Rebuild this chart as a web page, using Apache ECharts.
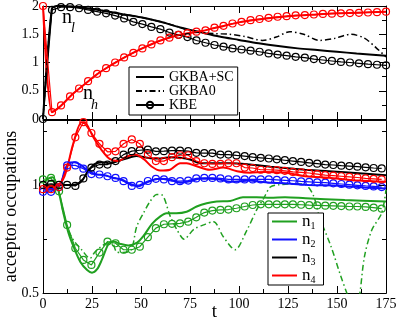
<!DOCTYPE html>
<html>
<head>
<meta charset="utf-8">
<title>acceptor occupations</title>
<script src="https://cdn.jsdelivr.net/npm/echarts@6/dist/echarts.min.js"></script>
<style>
  html, body { margin: 0; padding: 0; background: #fff; }
  #main { width: 399px; height: 321px; }
</style>
</head>
<body>
<div id="main"></div>
<script>
// ---- data ----
// top panel: n_l (black) and n_h (red)
var tTop = [0, 4.6, 9.2, 13.8, 18.4, 23, 27.6, 32.2, 36.8, 41.4, 46.1, 50.7, 55.3, 59.9, 64.5, 69.1, 73.7, 78.3, 82.9, 87.5,
            92.1, 96.7, 101.3, 105.9, 110.5, 115.1, 119.7, 124.3, 128.9, 133.6, 138.2, 142.8, 147.4, 152, 156.6, 161.2, 165.8, 170.4, 175];
var nlKbe = [0, 1.93, 1.98, 1.98, 1.96, 1.93, 1.90, 1.87, 1.83, 1.78, 1.72, 1.68, 1.63, 1.59, 1.53, 1.49, 1.45, 1.39, 1.35, 1.31,
             1.28, 1.25, 1.23, 1.21, 1.19, 1.16, 1.14, 1.12, 1.10, 1.085, 1.06, 1.044, 1.027, 1.01, 1.0, 0.985, 0.97, 0.96, 0.95];
var nhKbe = [2.0, 0.12, 0.24, 0.40, 0.54, 0.67, 0.80, 0.90, 1.0, 1.09, 1.17, 1.25, 1.32, 1.39, 1.44, 1.49, 1.52, 1.545, 1.57, 1.616,
             1.65, 1.69, 1.72, 1.75, 1.77, 1.79, 1.81, 1.82, 1.835, 1.84, 1.85, 1.86, 1.865, 1.87, 1.875, 1.88, 1.885, 1.89, 1.90];
var tNlSc = [0, 4.5, 7, 10, 15, 20, 25, 30, 40, 50, 60, 70, 80, 90, 100, 110, 120, 130, 140, 150, 160, 175];
var nlSc  = [0, 1.95, 2.0, 2.0, 1.99, 1.97, 1.95, 1.92, 1.86, 1.80, 1.72, 1.62, 1.54, 1.46, 1.40, 1.34, 1.29, 1.25, 1.22, 1.19, 1.16, 1.12];
var tNhSc = [0, 4.5, 7, 10, 15, 20, 25, 30, 40, 50, 60, 70, 80, 90, 100, 110, 120, 130, 140, 150, 160, 175];
var nhSc  = [2.0, 0.12, 0.17, 0.26, 0.44, 0.58, 0.72, 0.85, 1.06, 1.24, 1.39, 1.49, 1.55, 1.63, 1.71, 1.76, 1.80, 1.83, 1.85, 1.87, 1.88, 1.90];
var tNl0 = [0, 4.5, 7, 10, 20, 30, 40, 50, 60, 70, 75, 80, 88, 95, 103, 112, 119, 126, 133, 141, 149, 157, 164, 170, 175];
var nl0  = [0, 1.95, 2.0, 2.0, 1.97, 1.92, 1.86, 1.80, 1.72, 1.62, 1.56, 1.53, 1.51, 1.50, 1.46, 1.39, 1.45, 1.545, 1.50, 1.39, 1.43, 1.50, 1.43, 1.26, 1.10];

// bottom panel: n1 green, n2 blue, n3 black, n4 red
var tBot = [0, 4.1, 8.2, 12.3, 16.5, 20.6, 24.7, 28.8, 32.9, 37.0, 41.1, 45.3, 49.4, 53.5, 57.6, 61.7, 65.8, 69.9, 74.1, 78.2, 82.3,
            86.4, 90.5, 94.6, 98.7, 102.9, 107.0, 111.1, 115.2, 119.3, 123.4, 127.5, 131.7, 135.8, 139.9, 144.0, 148.1, 152.2, 156.3, 160.4,
            164.6, 168.7, 172.8];
var n1Kbe = [1.025, 1.032, 0.97, 0.815, 0.707, 0.653, 0.63, 0.687, 0.738, 0.73, 0.70, 0.70, 0.714, 0.758, 0.80, 0.818, 0.82, 0.822,
             0.83, 0.85, 0.872, 0.881, 0.884, 0.886, 0.892, 0.90, 0.907, 0.91, 0.91, 0.91, 0.91, 0.91, 0.908, 0.906, 0.905, 0.904,
             0.903, 0.902, 0.90, 0.90, 0.898, 0.895, 0.89];
var n2Kbe = [0.968, 0.968, 0.99, 1.09, 1.09, 1.075, 1.05, 1.048, 1.04, 1.032, 1.017, 0.995, 1.0, 1.018, 1.028, 1.025, 1.017, 1.017,
             1.02, 1.03, 1.032, 1.032, 1.03, 1.025, 1.025, 1.025, 1.025, 1.025, 1.025, 1.023, 1.021, 1.019, 1.016, 1.014, 1.012,
             1.01, 1.007, 1.004, 1.001, 0.998, 0.995, 0.993, 0.99];
var n3Kbe = [1.0, 1.005, 1.0, 1.0, 0.995, 1.03, 1.08, 1.094, 1.094, 1.11, 1.14, 1.156, 1.16, 1.163, 1.155, 1.156, 1.158, 1.158,
             1.156, 1.148, 1.147, 1.147, 1.14, 1.14, 1.136, 1.133, 1.128, 1.125, 1.122, 1.118, 1.114, 1.11, 1.106, 1.102, 1.098,
             1.094, 1.092, 1.089, 1.087, 1.084, 1.081, 1.078, 1.076];
var n4Kbe = [0.98, 0.98, 0.99, 1.08, 1.22, 1.29, 1.24, 1.19, 1.153, 1.155, 1.19, 1.21, 1.19, 1.14, 1.11, 1.11, 1.128, 1.137,
             1.137, 1.11, 1.10, 1.097, 1.097, 1.10, 1.10, 1.08, 1.078, 1.07, 1.07, 1.068, 1.065, 1.06, 1.058, 1.055, 1.05, 1.045,
             1.043, 1.04, 1.037, 1.034, 1.03, 1.028, 1.025];

var tN1Sc = [0, 3, 5, 7, 8.5, 10.4, 13, 15.6, 19, 22.5, 25, 27.6, 30, 33.6, 36, 39.5, 43.5, 48, 51.3, 55.6, 59.7, 63, 68, 73.3,
             78.4, 83.5, 88.6, 95.5, 102, 109, 116, 123.5, 134, 154, 175];
var n1Sc  = [1.01, 1.03, 1.035, 1.0, 0.95, 0.87, 0.778, 0.714, 0.645, 0.606, 0.594, 0.61, 0.653, 0.73, 0.738, 0.727, 0.72, 0.733,
             0.764, 0.82, 0.853, 0.869, 0.869, 0.876, 0.90, 0.915, 0.923, 0.925, 0.943, 0.943, 0.94, 0.943, 0.938, 0.93, 0.923];
var tN10 = [0, 3, 5, 7, 8.5, 10.4, 13, 15.5, 19.7, 24, 26.5, 30.8, 35, 37.6, 41, 45, 47.8, 51.3, 54.6, 58, 60.5, 65, 68.5, 72,
            77, 82, 87, 92, 98, 104, 109, 112.6, 116, 120, 128, 134, 138, 141, 147, 152, 155, 158, 160, 161.7, 164, 167.7, 172.8, 175];
var n10  = [1.01, 1.03, 1.035, 1.0, 0.95, 0.87, 0.79, 0.745, 0.70, 0.66, 0.69, 0.722, 0.738, 0.69, 0.687, 0.70, 0.807, 0.87,
            0.923, 0.955, 0.954, 0.853, 0.79, 0.749, 0.795, 0.815, 0.83, 0.76, 0.70, 0.79, 0.884, 0.938, 0.99, 1.0, 1.005, 1.0,
            0.95, 0.853, 0.714, 0.576, 0.50, 0.42, 0.42, 0.50, 0.668, 0.79, 0.87, 0.977];
var tN2Sc = [0, 4.7, 8.9, 11, 13, 16, 19, 23, 27.3, 31.5, 35.8, 40, 44.2, 48.5, 52.7, 57, 60, 64.8, 70, 75, 80, 85, 90, 95.5,
             100.5, 105.6, 110.7, 116, 123, 133.7, 144, 154, 164, 175];
var n2Sc  = [0.978, 0.977, 1.0, 1.065, 1.10, 1.105, 1.094, 1.065, 1.048, 1.045, 1.032, 1.025, 1.005, 0.994, 1.01, 1.025, 1.028,
             1.025, 1.01, 1.017, 1.028, 1.028, 1.025, 1.014, 1.017, 1.02, 1.014, 1.01, 1.008, 1.0, 0.998, 0.994, 0.988, 0.983];
var tN3Sc = [0, 9.3, 15.5, 19.7, 23, 26.5, 30.6, 34, 38.3, 42.5, 47.6, 51.8, 56, 60, 64.8, 70, 75, 80, 88, 95.5, 105.6, 116,
             123.5, 133.7, 154, 175];
var n3Sc  = [0.994, 1.0, 1.0, 1.017, 1.065, 1.097, 1.105, 1.10, 1.11, 1.122, 1.133, 1.128, 1.122, 1.122, 1.128, 1.125, 1.117,
             1.10, 1.10, 1.10, 1.094, 1.084, 1.078, 1.07, 1.058, 1.045];
var tN4Sc = [0, 7, 11, 15.4, 19.7, 21.3, 23.5, 25.7, 30, 34, 38.3, 42.5, 47, 51.3, 55.4, 59.7, 64.8, 70, 73.3, 78.4, 85, 92,
             99, 105.6, 113, 123.5, 133.7, 147, 160.7, 175];
var n4Sc  = [0.986, 0.995, 1.04, 1.19, 1.29, 1.29, 1.26, 1.22, 1.16, 1.12, 1.11, 1.13, 1.14, 1.12, 1.085, 1.066, 1.07, 1.10,
             1.10, 1.086, 1.07, 1.08, 1.063, 1.056, 1.06, 1.056, 1.04, 1.032, 1.02, 1.014];

// ---- chart ----
var FONT = '"Liberation Serif", "Times New Roman", serif';
var GREEN = '#20a020', BLUE = '#1010ff', RED = '#ff0000', BLACK = '#000000';
var DASHDOT = [6, 3, 1.5, 3];
var CLEAR = 'rgba(255,255,255,0)';

function pairs(ts, vs) {
    return ts.map(function (t, i) { return [t, vs[i]]; });
}

function lineSeries(name, color, ts, vs, bottom, dash) {
    return {
        name: name, type: 'line',
        xAxisIndex: bottom ? 2 : 0, yAxisIndex: bottom ? 2 : 0,
        data: pairs(ts, vs),
        symbol: 'none', smooth: 0.3,
        lineStyle: { color: color, width: dash ? 1.5 : 2, type: dash ? DASHDOT : 'solid' },
        // no marker, so keep the legend's marker invisible too
        itemStyle: { color: CLEAR, borderColor: CLEAR, borderWidth: 0 },
        silent: true, animation: false, emphasis: { disabled: true }
    };
}

function circleSeries(name, color, ts, vs, bottom) {
    return {
        name: name, type: 'line',
        xAxisIndex: bottom ? 2 : 0, yAxisIndex: bottom ? 2 : 0,
        data: pairs(ts, vs),
        symbol: 'circle', symbolSize: 7, showSymbol: true, showAllSymbol: true,
        lineStyle: { color: color, width: 1.2 },
        itemStyle: { color: CLEAR, borderColor: color, borderWidth: 1.2 },
        silent: true, animation: false, emphasis: { disabled: true }
    };
}

function axis(o) {
    var a = {
        type: 'value', gridIndex: o.grid, position: o.pos,
        min: o.min, max: o.max, interval: o.interval,
        axisLine: { show: true, onZero: false, lineStyle: { color: '#000', width: 1 } },
        axisTick: { show: true, inside: true, length: o.tick || 7, lineStyle: { color: '#000' } },
        minorTick: { show: !!o.minor, splitNumber: 2, length: 4, lineStyle: { color: '#000' } },
        splitLine: { show: false },
        minorSplitLine: { show: false },
        axisLabel: { show: !!o.labels, margin: 4, fontFamily: FONT, fontSize: 14, color: '#000', showMaxLabel: o.showMax !== false },
        silent: true
    };
    if (o.name) {
        a.name = o.name;
        a.nameLocation = 'middle';
        a.nameGap = o.nameGap;
        a.nameMoveOverlap = false;
        a.nameTextStyle = { fontFamily: FONT, fontSize: o.nameSize, color: '#000' };
    }
    return a;
}

var chart = echarts.init(document.getElementById('main'), null, { renderer: 'canvas' });

var option = {
    backgroundColor: '#fff',
    animation: false,
    grid: [
        { left: 43, top: 6, width: 343, height: 113, outerBoundsMode: 'none' },
        { left: 43, top: 120, width: 343, height: 173, outerBoundsMode: 'none' }
    ],
    xAxis: [
        axis({ grid: 0, pos: 'bottom', min: 0, max: 175, interval: 25, minor: true }),
        axis({ grid: 0, pos: 'top', min: 0, max: 175, interval: 25, minor: true }),
        axis({ grid: 1, pos: 'bottom', min: 0, max: 175, interval: 25, minor: true, labels: true,
               name: 't', nameGap: 10, nameSize: 19 }),
        axis({ grid: 1, pos: 'top', min: 0, max: 175, interval: 25, minor: true })
    ],
    yAxis: [
        axis({ grid: 0, pos: 'left', min: 0, max: 2, interval: 0.5, minor: true, labels: true }),
        axis({ grid: 0, pos: 'right', min: 0, max: 2, interval: 0.5, minor: true }),
        axis({ grid: 1, pos: 'left', min: 0.5, max: 1.3, interval: 0.5, labels: true, showMax: false,
               name: 'acceptor occupations', nameGap: 23, nameSize: 18 }),
        axis({ grid: 1, pos: 'left', min: 0.5, max: 1.3, interval: 0.25, tick: 4 }),
        axis({ grid: 1, pos: 'right', min: 0.5, max: 1.3, interval: 0.5 }),
        axis({ grid: 1, pos: 'right', min: 0.5, max: 1.3, interval: 0.25, tick: 4 })
    ],
    legend: [
        {
            orient: 'vertical', left: 129, top: 67,
            data: ['GKBA+SC', 'GKBA0', 'KBE'],
            itemWidth: 28, itemHeight: 8, itemGap: 0,
            padding: [3, 4, 3, 6],
            borderColor: '#000', borderWidth: 1, backgroundColor: '#fff',
            selectedMode: false,
            textStyle: { fontFamily: FONT, fontSize: 14, color: '#000', lineHeight: 12 }
        },
        {
            orient: 'vertical', left: 268, top: 213,
            data: ['n1', 'n2', 'n3', 'n4'],
            itemWidth: 25, itemHeight: 8, itemGap: 0,
            padding: [0, 8, 0, 3],
            borderColor: '#000', borderWidth: 1, backgroundColor: '#fff',
            selectedMode: false,
            formatter: function (name) { return '{n|n}{s|' + name.slice(1) + '}'; },
            textStyle: {
                color: '#000',
                rich: {
                    n: { fontFamily: FONT, fontSize: 17, color: '#000', lineHeight: 19 },
                    s: { fontFamily: FONT, fontSize: 10, color: '#000', padding: [9, 0, 0, 0] }
                }
            }
        }
    ],
    graphic: [
        { type: 'text', left: 62, top: 8, silent: true,
          style: { text: 'n', font: '20px "Liberation Serif"', fill: '#000' } },
        { type: 'text', left: 71, top: 21, silent: true,
          style: { text: 'l', font: 'italic 14px "Liberation Serif"', fill: '#000' } },
        { type: 'text', left: 83, top: 84, silent: true,
          style: { text: 'n', font: '20px "Liberation Serif"', fill: '#000' } },
        { type: 'text', left: 91, top: 98, silent: true,
          style: { text: 'h', font: 'italic 14px "Liberation Serif"', fill: '#000' } }
    ],
    series: [
        lineSeries('GKBA+SC', BLACK, tNlSc, nlSc, false),
        lineSeries('GKBA+SC', RED, tNhSc, nhSc, false),
        lineSeries('GKBA0', BLACK, tNl0, nl0, false, true),
        circleSeries('KBE', BLACK, tTop, nlKbe, false),
        circleSeries('KBE', RED, tTop, nhKbe, false),

        lineSeries('n1', GREEN, tN1Sc, n1Sc, true),
        lineSeries('n1', GREEN, tN10, n10, true, true),
        circleSeries('n1', GREEN, tBot, n1Kbe, true),
        lineSeries('n2', BLUE, tN2Sc, n2Sc, true),
        circleSeries('n2', BLUE, tBot, n2Kbe, true),
        lineSeries('n3', BLACK, tN3Sc, n3Sc, true),
        circleSeries('n3', BLACK, tBot, n3Kbe, true),
        lineSeries('n4', RED, tN4Sc, n4Sc, true),
        circleSeries('n4', RED, tBot, n4Kbe, true)
    ]
};

chart.setOption(option);
</script>
</body>
</html>
